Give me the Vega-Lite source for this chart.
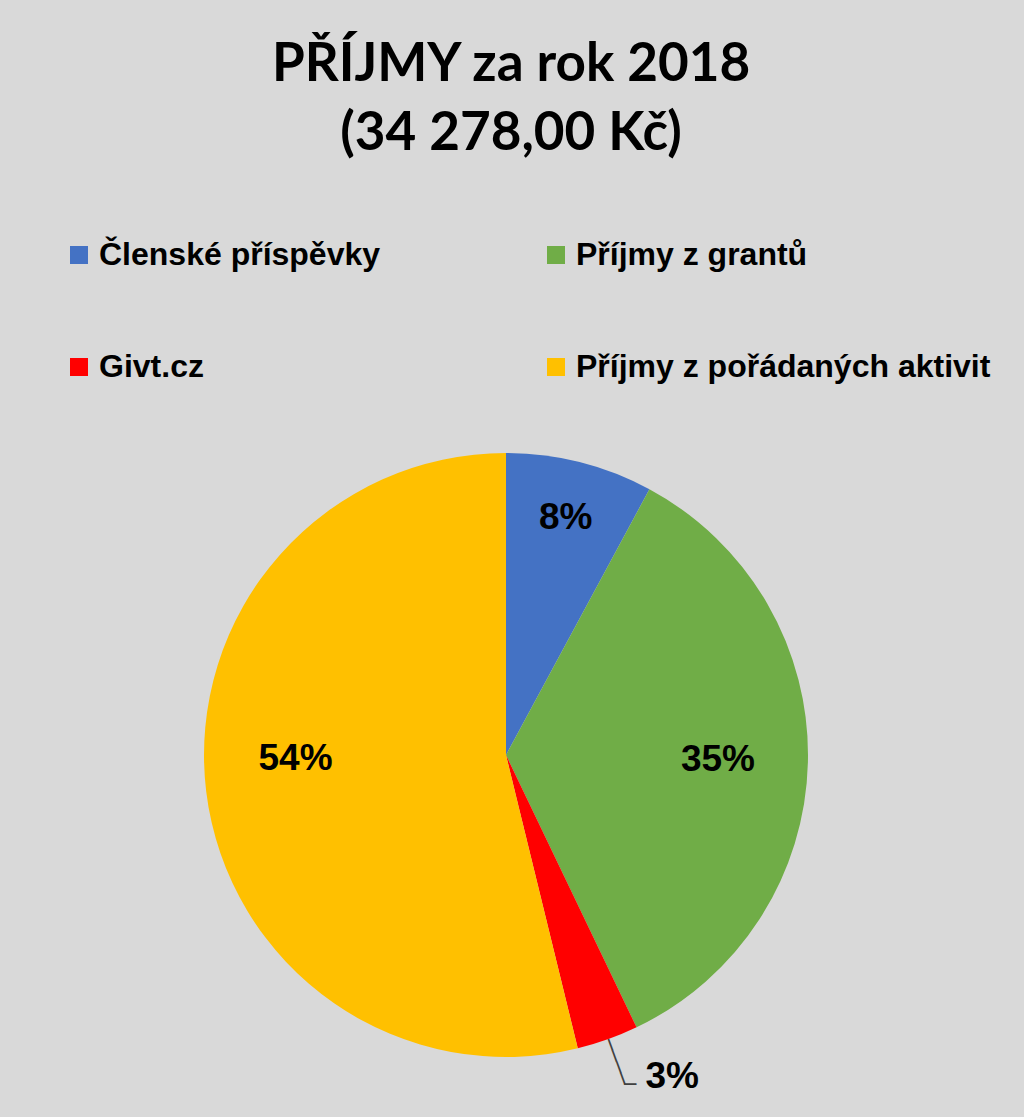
{
  "$schema": "https://vega.github.io/schema/vega-lite/v6.json",
  "width": 1012,
  "height": 724,
  "autosize": {"type": "none"},
  "padding": {"top": 393, "left": 0, "right": 12, "bottom": 0},
  "background": "#d9d9d9",
  "title": {
    "text": ["PŘÍJMY za rok 2018", "(34 278,00 Kč)"],
    "font": "Lato",
    "fontSize": 53,
    "fontWeight": "bold",
    "color": "#000000",
    "lineHeight": 69,
    "anchor": "middle",
    "offset": 78,
    "dx": 5
  },
  "data": {
    "values": [
      {"polozka": "Členské příspěvky", "castka": 2700, "podil": "8%", "poradi": 1},
      {"polozka": "Příjmy z grantů", "castka": 12000, "podil": "35%", "poradi": 2},
      {"polozka": "Givt.cz", "castka": 1130, "podil": "3%", "poradi": 3},
      {"polozka": "Příjmy z pořádaných aktivit", "castka": 18448, "podil": "54%", "poradi": 4}
    ]
  },
  "encoding": {
    "theta": {"field": "castka", "type": "quantitative", "stack": true},
    "order": {"field": "poradi", "type": "quantitative"}
  },
  "layer": [
    {
      "mark": {"type": "arc", "outerRadius": 302},
      "encoding": {
        "color": {
          "field": "polozka",
          "type": "nominal",
          "scale": {
            "domain": ["Členské příspěvky", "Givt.cz", "Příjmy z grantů", "Příjmy z pořádaných aktivit"],
            "range": ["#4472c4", "#ff0000", "#70ad47", "#ffc000"]
          },
          "legend": {
            "orient": "none",
            "legendX": 63,
            "legendY": -154,
            "title": null,
            "columns": 2,
            "columnPadding": 159,
            "rowPadding": 80,
            "symbolType": "square",
            "symbolSize": 324,
            "symbolStrokeWidth": 0,
            "labelOffset": 4,
            "labelFont": "Liberation Sans",
            "labelFontSize": 32,
            "labelFontWeight": "bold",
            "labelColor": "#000000",
            "labelLimit": 600
          }
        }
      }
    },
    {
      "mark": {"type": "text", "radius": 244, "font": "Liberation Sans", "fontSize": 37, "fontWeight": "bold", "color": "#000000"},
      "encoding": {
        "text": {"condition": {"test": "datum.poradi == 1", "field": "podil"}, "value": ""}
      }
    },
    {
      "mark": {"type": "text", "radius": 212, "font": "Liberation Sans", "fontSize": 37, "fontWeight": "bold", "color": "#000000"},
      "encoding": {
        "text": {"condition": {"test": "datum.poradi == 2", "field": "podil"}, "value": ""}
      }
    },
    {
      "mark": {"type": "text", "radius": 212, "dy": -21, "font": "Liberation Sans", "fontSize": 37, "fontWeight": "bold", "color": "#000000"},
      "encoding": {
        "text": {"condition": {"test": "datum.poradi == 4", "field": "podil"}, "value": ""}
      }
    },
    {
      "mark": {"type": "text", "radius": 360, "dx": 45, "dy": -17, "font": "Liberation Sans", "fontSize": 37, "fontWeight": "bold", "color": "#000000"},
      "encoding": {
        "text": {"condition": {"test": "datum.poradi == 3", "field": "podil"}, "value": ""}
      }
    },
    {
      "mark": {"type": "text", "radius": 326, "angle": 70, "align": "center", "baseline": "middle", "font": "DejaVu Sans Mono", "fontSize": 20, "color": "#404040"},
      "encoding": {
        "text": {"condition": {"test": "datum.poradi == 3", "value": "────"}, "value": ""}
      }
    },
    {
      "mark": {"type": "text", "radius": 351, "align": "left", "baseline": "middle", "font": "DejaVu Sans Mono", "fontSize": 20, "color": "#404040"},
      "encoding": {
        "text": {"condition": {"test": "datum.poradi == 3", "value": "─"}, "value": ""}
      }
    }
  ],
  "config": {
    "view": {"stroke": null}
  }
}
